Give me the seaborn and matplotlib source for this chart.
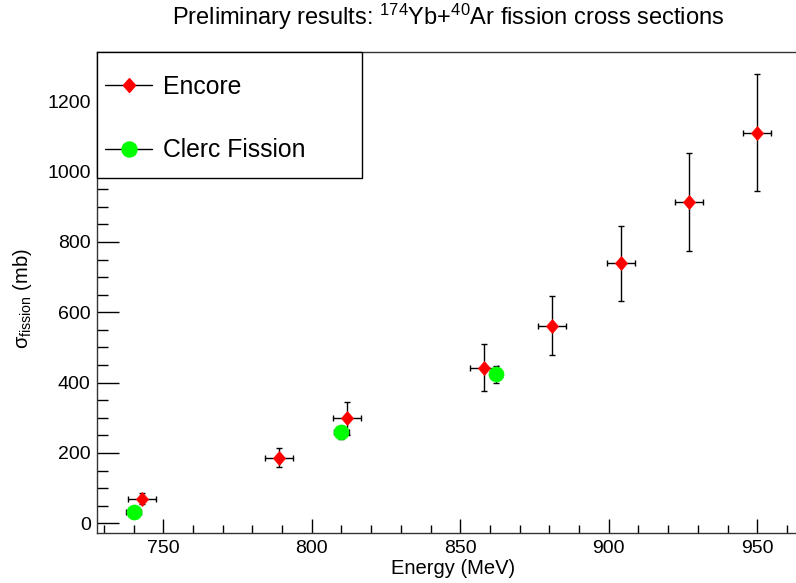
import matplotlib
matplotlib.use("Agg")
import matplotlib.pyplot as plt
from matplotlib.lines import Line2D
from matplotlib.patches import Rectangle
from matplotlib.ticker import MultipleLocator
import pandas as pd
import seaborn as sns

# ---------------- data ----------------
encore_energy = [743, 789, 812, 858, 881, 904, 927, 950]
encore_sigma = [70, 187, 299, 442, 562, 739, 914, 1111]
encore_energy_err = [4.7, 4.7, 4.7, 4.7, 4.7, 4.7, 4.7, 4.7]
encore_sigma_err = [15, 28, 47, 67, 84, 107, 139, 167]

clerc_energy = [740, 810, 862]
clerc_sigma = [31, 259, 424]
clerc_energy_err = [2.5, 2.5, 2.0]
clerc_sigma_err = [15, 18, 24]

series_labels = ["Encore", "Clerc Fission"]
x_ticks = [750, 800, 850, 900, 950]
y_ticks = [0, 200, 400, 600, 800, 1000, 1200]

title_text = r"Preliminary results: $^{174}$Yb+$^{40}$Ar fission cross sections"
x_label = "Energy (MeV)"
y_label = r"σ$_{\mathrm{fission}}$ (mb)"

# ---------------- style ----------------
sns.set_theme(style="white")
plt.rcParams["font.family"] = ["Liberation Sans", "DejaVu Sans"]
plt.rcParams["mathtext.fontset"] = "custom"
plt.rcParams["mathtext.rm"] = "Liberation Sans"
plt.rcParams["mathtext.it"] = "Liberation Sans:italic"
plt.rcParams["mathtext.bf"] = "Liberation Sans:bold"
plt.rcParams["mathtext.sf"] = "Liberation Sans"
for k in ["text.color", "axes.labelcolor", "xtick.color", "ytick.color"]:
    plt.rcParams[k] = "black"

W, H = 796, 583
fig = plt.figure(figsize=(W / 100, H / 100), dpi=100)
fig.patch.set_facecolor("white")

# axes frame in pixels
L, R, T, B = 96.7, 800.0, 52.0, 533.3
ax = fig.add_axes([L / W, (H - B) / H, (R - L) / W, (B - T) / H])
ax.set_facecolor("white")


def axx(x):
    return (x - L) / (R - L)


def axy(y):
    return (B - y) / (B - T)


encore = pd.DataFrame({"energy": encore_energy, "sigma": encore_sigma,
                       "dE": encore_energy_err, "ds": encore_sigma_err})
clerc = pd.DataFrame({"energy": clerc_energy, "sigma": clerc_sigma,
                      "dE": clerc_energy_err, "ds": clerc_sigma_err})

diamond = [(0, 1), (0.88, 0), (0, -1), (-0.88, 0), (0, 1)]

# error bars
ax.errorbar(encore["energy"], encore["sigma"], xerr=encore["dE"], yerr=encore["ds"],
            fmt="none", ecolor="black", elinewidth=1.0, capsize=2.2, capthick=1.0, zorder=2)
ax.errorbar(clerc["energy"], clerc["sigma"], xerr=clerc["dE"], yerr=clerc["ds"],
            fmt="none", ecolor="black", elinewidth=1.0, capsize=2.2, capthick=1.0, zorder=2)

# markers
sns.scatterplot(data=encore, x="energy", y="sigma", marker=diamond, s=100,
                color="#ff0000", edgecolor="#ff0000", linewidth=0.5, ax=ax,
                legend=False, zorder=3)
sns.scatterplot(data=clerc, x="energy", y="sigma", marker="o", s=117,
                color="#00ff00", edgecolor="#00ff00", linewidth=0.5, ax=ax,
                legend=False, zorder=4)

# axes limits and ticks
ax.set_xlim(727.6, 964.4)
ax.set_ylim(-28.4, 1340)
ax.set_xticks(x_ticks)
ax.set_yticks(y_ticks)
ax.xaxis.set_minor_locator(MultipleLocator(10))
ax.yaxis.set_minor_locator(MultipleLocator(50))
ax.tick_params(axis="x", which="major", direction="in", length=10, width=1.0,
               bottom=True, top=False, labelsize=14, pad=5, color="black")
ax.tick_params(axis="x", which="minor", direction="in", length=5.8, width=1.0,
               bottom=True, top=False, color="black")
ax.tick_params(axis="y", which="major", direction="in", length=15.8, width=1.0,
               left=True, right=False, labelsize=14, pad=4.3, color="black")
ax.tick_params(axis="y", which="minor", direction="in", length=7.9, width=1.0,
               left=True, right=False, color="black")

for side in ["left", "bottom", "top"]:
    ax.spines[side].set_visible(True)
    ax.spines[side].set_color("#333333")
    ax.spines[side].set_linewidth(1.0)
ax.spines["right"].set_visible(False)

# labels
ax.set_xlabel(x_label, fontsize=14.5)
ax.xaxis.set_label_coords(axx(453), axy(569))
ax.xaxis.label.set_va("center")
ax.set_ylabel(y_label, fontsize=14.5)
ax.yaxis.set_label_coords(axx(22), axy(299))
ax.yaxis.label.set_va("center")

fig.text(448 / W, 1 - 17 / H, title_text, ha="center", va="center", fontsize=17)

# legend box (white, covering axis ticks like the ROOT TLegend)
box = Rectangle((axx(96.7), axy(178)), axx(361.7) - axx(96.7), axy(52) - axy(178),
                transform=ax.transAxes, facecolor="white", edgecolor="black",
                linewidth=1.0, zorder=5, clip_on=False)
ax.add_patch(box)

handles = [
    Line2D([0], [0], color="black", lw=1.0, marker=diamond, markersize=10,
           markerfacecolor="#ff0000", markeredgecolor="#ff0000"),
    Line2D([0], [0], color="black", lw=1.0, marker="o", markersize=10.8,
           markerfacecolor="#00ff00", markeredgecolor="#00ff00"),
]
leg = ax.legend(handles, series_labels, loc="center left",
                bbox_to_anchor=(axx(105), axy(118.5)), frameon=False,
                fontsize=17.8, borderpad=0, borderaxespad=0,
                handlelength=1.91, handletextpad=0.43, labelspacing=1.59,
                numpoints=1)
leg.set_zorder(6)

fig.savefig("out.png", dpi=100, facecolor="white")
